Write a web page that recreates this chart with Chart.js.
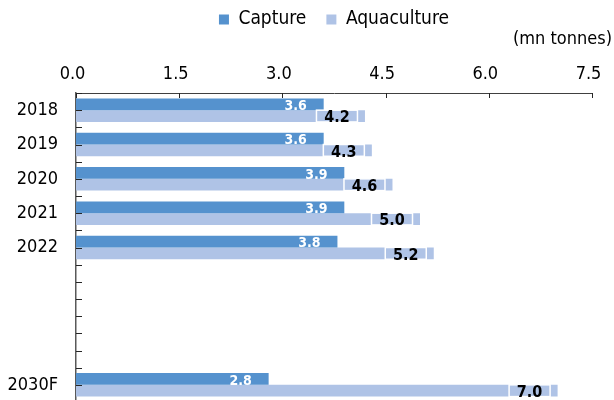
<!DOCTYPE html>
<html>
<head>
<meta charset="utf-8">
<script src="https://cdn.jsdelivr.net/npm/chart.js@4"></script>
<style>
  body { margin: 0; overflow: hidden; background: #fff; }
  #wrap { width: 614px; height: 402px; }
</style>
</head>
<body>
<div id="wrap"><canvas id="fishChart"></canvas></div>
<script>
const years = ["2018", "2019", "2020", "2021", "2022", "", "", "", "2030F"];
const capture = [3.6, 3.6, 3.9, 3.9, 3.8, null, null, null, 2.8];
const aquaculture = [4.2, 4.3, 4.6, 5.0, 5.2, null, null, null, 7.0];
const xTicks = [0, 1.5, 3.0, 4.5, 6.0, 7.5];

const FONT = "'DejaVu Sans Condensed', 'Liberation Sans', sans-serif";
const DARK_BLUE = "#5592ce";
const LIGHT_BLUE = "#afc3e6";

// tick marks pointing into the plot, on both axes
const insideTicks = {
  id: "insideTicks",
  afterDraw(chart) {
    const { ctx, scales: { x, y } } = chart;
    ctx.save();
    ctx.strokeStyle = "#262626";
    ctx.lineWidth = 1;
    ctx.beginPath();
    xTicks.forEach(v => {
      const px = Math.round(x.getPixelForValue(v)) + 0.5;
      ctx.moveTo(px, y.top);
      ctx.lineTo(px, y.top + 5);
    });
    const half = (y.getPixelForValue(1) - y.getPixelForValue(0)) / 2;
    for (let i = 0; i < years.length; i++) {
      const c = y.getPixelForValue(i);
      [c - half, c].forEach(p => {
        const py = Math.round(p) + 0.5;
        ctx.moveTo(x.left, py);
        ctx.lineTo(x.left + 6, py);
      });
    }
    const last = Math.round(y.getPixelForValue(years.length - 1) + half) + 0.5;
    ctx.moveTo(x.left, last);
    ctx.lineTo(x.left + 6, last);
    ctx.stroke();
    ctx.restore();
  }
};

// value labels near the end of each bar
const barValues = {
  id: "barValues",
  afterDatasetsDraw(chart) {
    const ctx = chart.ctx;
    ctx.save();
    ctx.textAlign = "center";
    ctx.textBaseline = "middle";
    chart.getDatasetMeta(0).data.forEach((bar, i) => {
      const v = capture[i];
      if (v == null) return;
      ctx.font = "bold 14px " + FONT;
      ctx.fillStyle = "#ffffff";
      ctx.fillText(v.toFixed(1), bar.x - 28, bar.y + 2);
    });
    chart.getDatasetMeta(1).data.forEach((bar, i) => {
      const v = aquaculture[i];
      if (v == null) return;
      const cx = bar.x - 28;
      const h = bar.height;
      ctx.strokeStyle = "#ffffff";
      ctx.lineWidth = 1.5;
      ctx.strokeRect(cx - 20.5, bar.y - h / 2, 41, h);
      ctx.font = "bold 16px " + FONT;
      ctx.fillStyle = "#000000";
      ctx.fillText(v.toFixed(1), cx, bar.y + 2);
    });
    ctx.restore();
  }
};

new Chart(document.getElementById("fishChart"), {
  type: "bar",
  data: {
    labels: years,
    datasets: [
      { label: "Capture", data: capture, backgroundColor: DARK_BLUE, borderWidth: 0 },
      { label: "Aquaculture", data: aquaculture, backgroundColor: LIGHT_BLUE, borderWidth: 0 }
    ]
  },
  options: {
    indexAxis: "y",
    responsive: true,
    maintainAspectRatio: false,
    animation: false,
    categoryPercentage: 0.686,
    barPercentage: 1,
    layout: { padding: { top: -10, right: 2, bottom: 0, left: 0 } },
    plugins: {
      legend: {
        position: "top",
        fullSize: false,
        labels: {
          boxWidth: 10,
          boxHeight: 10,
          padding: 20,
          color: "#000",
          font: { family: FONT, size: 19 }
        }
      },
      title: {
        display: true,
        text: "(mn tonnes)",
        align: "end",
        weight: 500,
        color: "#000",
        font: { family: FONT, size: 18, weight: "normal", lineHeight: 1 },
        padding: { top: -9, bottom: 7.4 }
      },
      tooltip: { enabled: false }
    },
    scales: {
      x: {
        position: "top",
        min: 0,
        max: 7.5,
        afterBuildTicks(scale) {
          scale.ticks = xTicks.map(v => ({ value: v }));
        },
        afterFit(scale) {
          scale.paddingLeft = 0;
          scale.paddingRight = 22;
        },
        ticks: {
          padding: 8,
          labelOffset: -3.5,
          color: "#000",
          font: { family: FONT, size: 18 },
          callback: v => Number(v).toFixed(1)
        },
        grid: { display: false, drawTicks: false },
        border: { display: true, color: "#404040", width: 1 }
      },
      y: {
        afterFit(scale) {
          scale.width = 76;
          scale.paddingTop = 0;
          scale.paddingBottom = 0;
        },
        ticks: {
          padding: 18,
          color: "#000",
          font: { family: FONT, size: 18 }
        },
        grid: { display: false, drawTicks: false },
        border: { display: true, color: "#595959", width: 1.5 }
      }
    }
  },
  plugins: [insideTicks, barValues]
});
</script>
</body>
</html>
